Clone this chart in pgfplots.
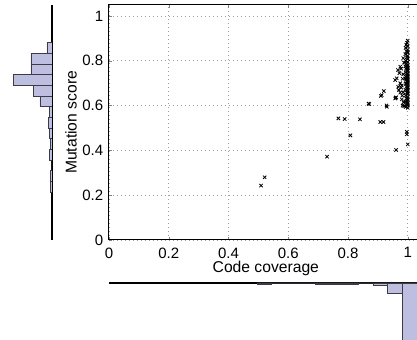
\documentclass[border=0pt]{standalone}
\usepackage{pgfplots}
\pgfplotsset{compat=1.18}
\usepackage{fontspec}
\setmainfont{Liberation Sans}
\definecolor{histfill}{RGB}{189,190,224}
\definecolor{histedge}{RGB}{60,60,70}
\begin{document}
\begin{tikzpicture}
\useasboundingbox (0,0) rectangle (250.2pt,204pt);
\clip (0,0) rectangle (250.2pt,204pt);
% main scatter
\begin{axis}[
  at={(65.4pt,60pt)}, anchor=south west,
  scale only axis, width=188.2pt, height=141.1pt,
  xmin=0, xmax=1.05, ymin=0, ymax=1.05,
  xtick={0,0.2,0.4,0.6,0.8,1}, ytick={0,0.2,0.4,0.6,0.8,1},
  xticklabels={0,0.2,0.4,0.6,0.8,1}, yticklabels={0,0.2,0.4,0.6,0.8,1},
  grid=major, major grid style={gray!75, dotted, line width=0.5pt},
  tick align=inside, major tick length=1.8pt,
  axis line style={line width=0.6pt},
  /pgf/number format/assume math mode=true,
  tick label style={font=\fontsize{9}{10}\selectfont},
  label style={font=\fontsize{9.4}{11}\selectfont},
  xlabel={Code coverage}, ylabel={Mutation score},
  xlabel style={at={(axis description cs:0.5,-0.121)},anchor=center},
  ylabel style={at={(axis description cs:-0.121,0.5)},anchor=center},
  xticklabel style={yshift=-1pt},
  clip=false,
]
\addplot[only marks, mark=x, mark size=1.4pt, mark options={line width=0.5pt, black}] coordinates {
(0.509,0.243)(0.521,0.280)(0.730,0.372)(0.768,0.543)(0.789,0.540)(0.808,0.467)
(0.840,0.539)(0.869,0.609)(0.871,0.607)(0.908,0.527)(0.919,0.527)(0.910,0.643)
(0.913,0.647)(0.920,0.665)(0.929,0.601)(0.930,0.595)(0.960,0.635)(0.961,0.637)
(0.961,0.402)(0.997,0.483)(0.997,0.472)(1.0,0.427)(0.958,0.632)
(0.975,0.774)(0.967,0.759)(0.978,0.765)(0.958,0.714)(0.963,0.722)(0.975,0.700)
(0.980,0.690)(0.970,0.670)(0.975,0.658)(0.982,0.645)(0.968,0.684)(0.985,0.740)
(0.983,0.720)(0.978,0.680)(0.985,0.660)(0.980,0.628)(0.986,0.615)(0.983,0.600)
(0.972,0.745)(0.988,0.792)(0.985,0.812)(0.988,0.598)
(1.0,0.890)(0.998,0.880)(0.995,0.872)(1.0,0.865)(0.993,0.858)(1.0,0.850)
(0.996,0.843)(1.0,0.836)(0.992,0.830)(1.0,0.823)(0.997,0.816)(1.0,0.808)
(0.993,0.801)(1.0,0.795)(0.996,0.788)(1.0,0.781)(0.992,0.775)(1.0,0.768)
(0.997,0.761)(1.0,0.755)(0.993,0.748)(1.0,0.742)(0.996,0.735)(1.0,0.728)
(0.992,0.722)(1.0,0.716)(0.997,0.709)(1.0,0.703)(0.993,0.697)(1.0,0.690)
(0.996,0.684)(1.0,0.677)(0.992,0.671)(1.0,0.664)(0.997,0.658)(1.0,0.651)
(0.993,0.645)(1.0,0.638)(0.996,0.632)(1.0,0.625)(0.992,0.619)(1.0,0.612)
(0.997,0.606)(1.0,0.600)(0.993,0.594)(1.0,0.590)
(1.0,0.745)(1.0,0.712)(1.0,0.697)(0.998,0.770)(0.998,0.730)(1.0,0.760)
(1.0,0.720)(0.999,0.705)(1.0,0.682)(0.994,0.765)(0.994,0.715)(1.0,0.735)
(1.0,0.775)(1.0,0.810)(1.0,0.840)(0.998,0.620)(1.0,0.605)(1.0,0.630)
(1.0,0.655)(1.0,0.670)
};
\end{axis}
% left histogram (mutation score)
\begin{axis}[
  at={(0pt,60pt)}, anchor=south west,
  scale only axis, width=31.2pt, height=141.1pt,
  xmin=-52, xmax=0, ymin=0, ymax=1.05,
  axis x line=none, axis y line*=right,
  y axis line style={line width=1.1pt, black, -},
  xtick=\empty, ytick=\empty,
]
\addplot[xbar interval, fill=histfill, draw=histedge, line width=0.4pt] coordinates {
(-1.2,0.214)(-1.2,0.262)(0,0.310)(-2.4,0.357)(-1.2,0.405)(-2.5,0.452)(-3.7,0.500)
(-2.5,0.548)(-12,0.595)(-18.5,0.643)(-38.5,0.690)(-21,0.738)(-21,0.786)(-5,0.833)(0,0.881)
};
\end{axis}
% bottom histogram (code coverage)
\begin{axis}[
  at={(65.4pt,0pt)}, anchor=south west,
  scale only axis, width=188.2pt, height=34.2pt,
  xmin=0, xmax=1.05, ymin=-57, ymax=0,
  axis y line=none, axis x line*=top,
  x axis line style={line width=0.7pt, black, -},
  xtick=\empty, ytick=\empty,
]
\addplot[ybar interval, fill=histfill, draw=histedge, line width=0.4pt] coordinates {
(0.496,-1.2)(0.545,0)(0.593,0)(0.642,0)(0.690,-1.2)(0.739,-1.2)(0.788,-1.2)(0.836,0)
(0.885,-2.4)(0.933,-10.7)(0.982,-100)(1.031,0)
};
\end{axis}
\end{tikzpicture}
\end{document}
